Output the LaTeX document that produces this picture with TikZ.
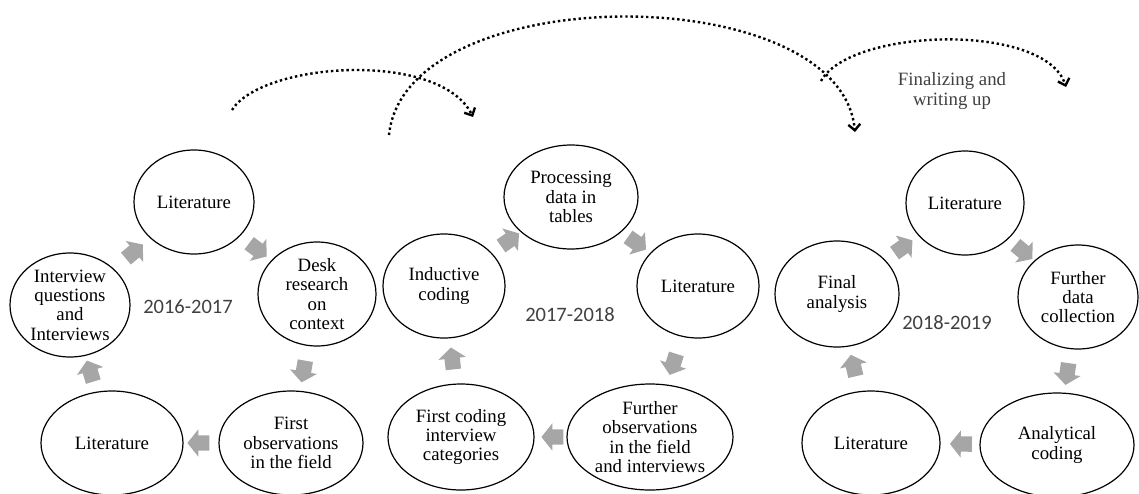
\documentclass[tikz,border=0pt]{standalone}
\usepackage{fontspec}
\setmainfont{Liberation Serif}
\newfontfamily\yearfont{Carlito}
\usetikzlibrary{shapes.geometric,shapes.arrows,arrows.meta}

\definecolor{flowgray}{HTML}{A6A6A6}
\definecolor{darktext}{HTML}{404040}

% invisible strut that sets the shaft width of the block arrows
\newcommand{\shaftstrut}{\rule[-7.5pt]{0pt}{15pt}}

\begin{document}
\begin{tikzpicture}[x=1pt,y=-1pt,
  phase/.style 2 args={ellipse, draw=black, line width=1.2pt, inner sep=0pt,
    minimum width=#1pt, minimum height=#2pt},
  lbl/.style={align=center, inner sep=0pt, text=black,
    font=\fontsize{18.8}{19.3}\selectfont},
  year/.style={inner sep=0pt, text=darktext, font=\yearfont\fontsize{20.5}{24}\selectfont},
  flow/.style={single arrow, fill=flowgray, draw=none, inner sep=0pt,
    minimum height=22pt, single arrow head extend=6pt,
    single arrow tip angle=103, single arrow head indent=0pt,
    sloped, allow upside down},
  trail/.style={line width=2.4pt, dash pattern=on 2.4pt off 2.8pt,
    -{Straight Barb[length=6pt,width=12pt,line width=2.4pt]}}
]
\useasboundingbox (0,0) rectangle (1139,493);

% ---------- 2016-2017 ----------
\node[phase={120}{104}] (litA1) at (194,202) {};
\node[phase={118}{104}] (desk) at (317,294) {};
\node[phase={144}{104}] (obs1) at (291,443) {};
\node[phase={142}{104}] (litA2) at (112,443) {};
\node[phase={120}{104}] (intv) at (70,305) {};

\node[lbl] (litA1t) at (litA1) {Literature};
\node[lbl] (deskt) at (desk) {Desk\\research\\on\\context};
\node[lbl] (obs1t) at (obs1) {First\\observations\\in the field};
\node[lbl] (litA2t) at (litA2) {Literature};
\node[lbl] (intvt) at (intv) {Interview\\questions\\and\\Interviews};
\node[year] (yA) at (188,307) {2016-2017};

\path (intv.center) -- node[flow] (fA1) {\shaftstrut} (litA1.center);
\path (litA1.center) -- node[flow] (fA2) {\shaftstrut} (desk.center);
\path (desk.center) -- node[flow] (fA3) {\shaftstrut} (obs1.center);
\path (obs1.center) -- node[flow] (fA4) {\shaftstrut} (litA2.center);
\path (litA2.center) -- node[flow] (fA5) {\shaftstrut} (intv.center);

% ---------- 2017-2018 ----------
\node[phase={134}{104}] (proc) at (571,197) {};
\node[phase={122}{104}] (litB1) at (698,286) {};
\node[phase={166}{106}] (fobs) at (650,437) {};
\node[phase={146}{106}] (fcode) at (461,437) {};
\node[phase={122}{104}] (induct) at (444,286) {};

\node[lbl] (proct) at (proc) {Processing\\data in\\tables};
\node[lbl] (litB1t) at (litB1) {Literature};
\node[lbl] (fobst) at (fobs) {Further\\observations\\in the field\\and interviews};
\node[lbl] (fcodet) at (fcode) {First coding\\interview\\categories};
\node[lbl] (inductt) at (induct) {Inductive\\coding};
\node[year] (yB) at (570,315) {2017-2018};

\path (induct.center) -- node[flow] (fB1) {\shaftstrut} (proc.center);
\path (proc.center) -- node[flow] (fB2) {\shaftstrut} (litB1.center);
\path (litB1.center) -- node[flow] (fB3) {\shaftstrut} (fobs.center);
\path (fobs.center) -- node[flow] (fB4) {\shaftstrut} (fcode.center);
\path (fcode.center) -- node[flow] (fB5) {\shaftstrut} (induct.center);

% ---------- 2018-2019 ----------
\node[phase={118}{104}] (litC1) at (965,203) {};
\node[phase={120}{104}] (fdata) at (1078,297) {};
\node[phase={154}{104}] (anal) at (1057,445) {};
\node[phase={138}{104}] (litC2) at (871,443) {};
\node[phase={124}{106}] (final) at (837,294) {};

\node[lbl] (litC1t) at (litC1) {Literature};
\node[lbl] (fdatat) at (fdata) {Further\\data\\collection};
\node[lbl] (analt) at (anal) {Analytical\\coding};
\node[lbl] (litC2t) at (litC2) {Literature};
\node[lbl] (finalt) at (final) {Final\\analysis};
\node[year] (yC) at (947,323) {2018-2019};

\path (final.center) -- node[flow] (fC1) {\shaftstrut} (litC1.center);
\path (litC1.center) -- node[flow] (fC2) {\shaftstrut} (fdata.center);
\path (fdata.center) -- node[flow] (fC3) {\shaftstrut} (anal.center);
\path (anal.center) -- node[flow] (fC4) {\shaftstrut} (litC2.center);
\path (litC2.center) -- node[flow] (fC5) {\shaftstrut} (final.center);

% ---------- transitions between phases ----------
\coordinate (s1) at (232,110);
\coordinate (e1) at (473,117);
\coordinate (s2) at (389,135);
\coordinate (e2) at (855,132);
\coordinate (s3) at (821,81);
\coordinate (e3) at (1066,87);

\draw[trail] (s1) .. controls (262,62) and (440,50) .. (e1);
\draw[trail] (s2) .. controls (405,-22) and (840,-22) .. (e2);
\draw[trail] (s3) .. controls (850,28) and (1045,22) .. (e3);

\node[lbl, text=darktext] (finw) at (952,91) {Finalizing and\\writing up};
\end{tikzpicture}
\end{document}
